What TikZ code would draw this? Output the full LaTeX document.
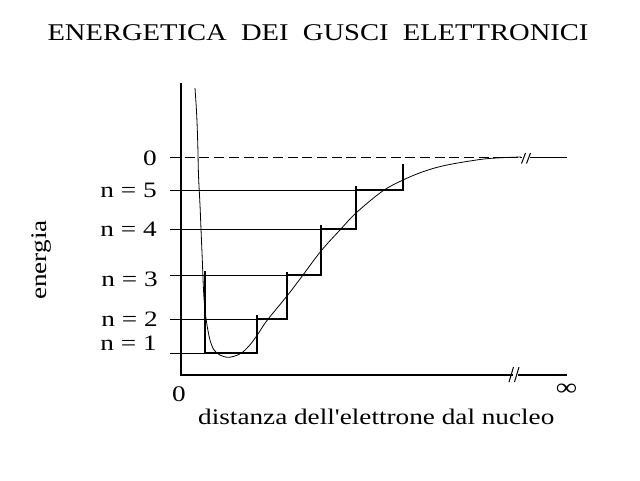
\documentclass[tikz,border=0pt]{standalone}
\usepackage{fontspec}
\setmainfont{Liberation Serif}
\newfontfamily\titlefont{Liberation Serif}[FakeStretch=1.19]
\newfontfamily\lblfont{Liberation Serif}[FakeStretch=1.24]
\newfontfamily\txtfont{Liberation Serif}[FakeStretch=1.22,Ligatures=TeXOff]
\newfontfamily\symfont{Liberation Serif}[FakeStretch=1.25]
\begin{document}
\begin{tikzpicture}[x=1pt,y=-1pt,
  thinline/.style={line width=1pt},
  axisline/.style={line width=2pt},
  stepline/.style={line width=2pt},
  curveline/.style={line width=0.8pt},
  brk/.style={line width=1pt},
  lbl/.style={font=\lblfont\fontsize{22}{25}\selectfont, inner sep=0pt, anchor=base east},
  txt/.style={font=\txtfont\fontsize{22.3}{25}\selectfont, inner sep=0pt}]
\useasboundingbox (0,0) rectangle (640,480);
\fill[white] (0,0) rectangle (640,480);

% title
\node[font=\titlefont\fontsize{24}{28}\selectfont, inner sep=0pt, anchor=base] (title) at (318,40) {ENERGETICA\ \ DEI\ \ GUSCI\ \ ELETTRONICI};

% coordinates
\coordinate (ytop) at (181,83);
\coordinate (orig) at (181,375);
\coordinate (xbrkL) at (513,375);
\coordinate (xbrkR) at (518,375);
\coordinate (xend) at (567,375);

% axes
\draw[axisline] (ytop) -- (orig) -- (xbrkL);
\draw[axisline] (xbrkR) -- (xend);
\draw[brk] (509,382) -- (513.5,367);
\draw[brk] (514.5,382) -- (519,367);

% zero line
\coordinate (z0) at (170,157);
\coordinate (z1) at (520,157);
\draw[thinline, dash pattern=on 10pt off 4.7pt] (z0) -- (z1);
\draw[thinline] (z1) -- (522,157);
\draw[brk] (521.5,163.5) -- (525.5,153);
\draw[brk] (526.5,163.5) -- (530.5,153);
\draw[thinline] (530,157) -- (567,157);

% level lines
\coordinate (l1) at (170,353);
\coordinate (l2) at (170,319);
\coordinate (l3) at (170,275);
\coordinate (l4) at (170,229);
\coordinate (l5) at (170,190);
\coordinate (s1) at (205,353);
\coordinate (s2) at (257,319);
\coordinate (s3) at (287,275);
\coordinate (s4) at (321,229);
\coordinate (s5) at (356,190);
\draw[thinline] (l1) -- (s1);
\draw[thinline] (l2) -- (s2);
\draw[thinline] (l3) -- (s3);
\draw[thinline] (l4) -- (s4);
\draw[thinline] (l5) -- (s5);

% steps
\draw[stepline] (205,271) -- (s1) -- (257,353) -- (257,315);
\draw[stepline] (s2) -- (287,319) -- (287,272);
\draw[stepline] (s3) -- (321,275) -- (321,225);
\draw[stepline] (s4) -- (356,229) -- (356,186);
\draw[stepline] (s5) -- (403,190) -- (403,164);

% potential curve
\draw[curveline] plot[smooth, tension=0.55] coordinates {
 (195,88) (196.7,115) (197.8,145) (198.5,175) (200,205) (201,229) (202.3,260)
 (203.5,290) (205,310) (207,325) (210,340) (214,350) (220,355) (227,357.3)
 (234,356.3) (241.5,353) (249,346) (257,335.5) (267,320.5) (287,296)
 (300,279) (321,251) (340,230) (356,213) (382,191.5) (403,180)
 (425,171) (447,165) (480,159.5) (500,157.8) (521,157)};

% labels
\node[lbl] (lab0) at (157,165) {0};
\node[lbl] (lab5) at (157,197.3) {n = 5};
\node[lbl] (lab4) at (157,236.7) {n = 4};
\node[lbl] (lab3) at (158,286.7) {n = 3};
\node[lbl] (lab2) at (158,326) {n = 2};
\node[lbl] (lab1) at (157,350.7) {n = 1};

\node[txt, rotate=90] (ylab) at (42,260) {energia};
\node[txt, anchor=base] (xzero) at (179,401) {0};
\node[txt, anchor=base west] (xlab) at (198,424) {distanza dell\char"0027 elettrone dal nucleo};
\node[inner sep=0pt, font=\symfont\fontsize{24}{26}\selectfont] (inf) at (566.5,390) {∞};
\end{tikzpicture}
\end{document}
